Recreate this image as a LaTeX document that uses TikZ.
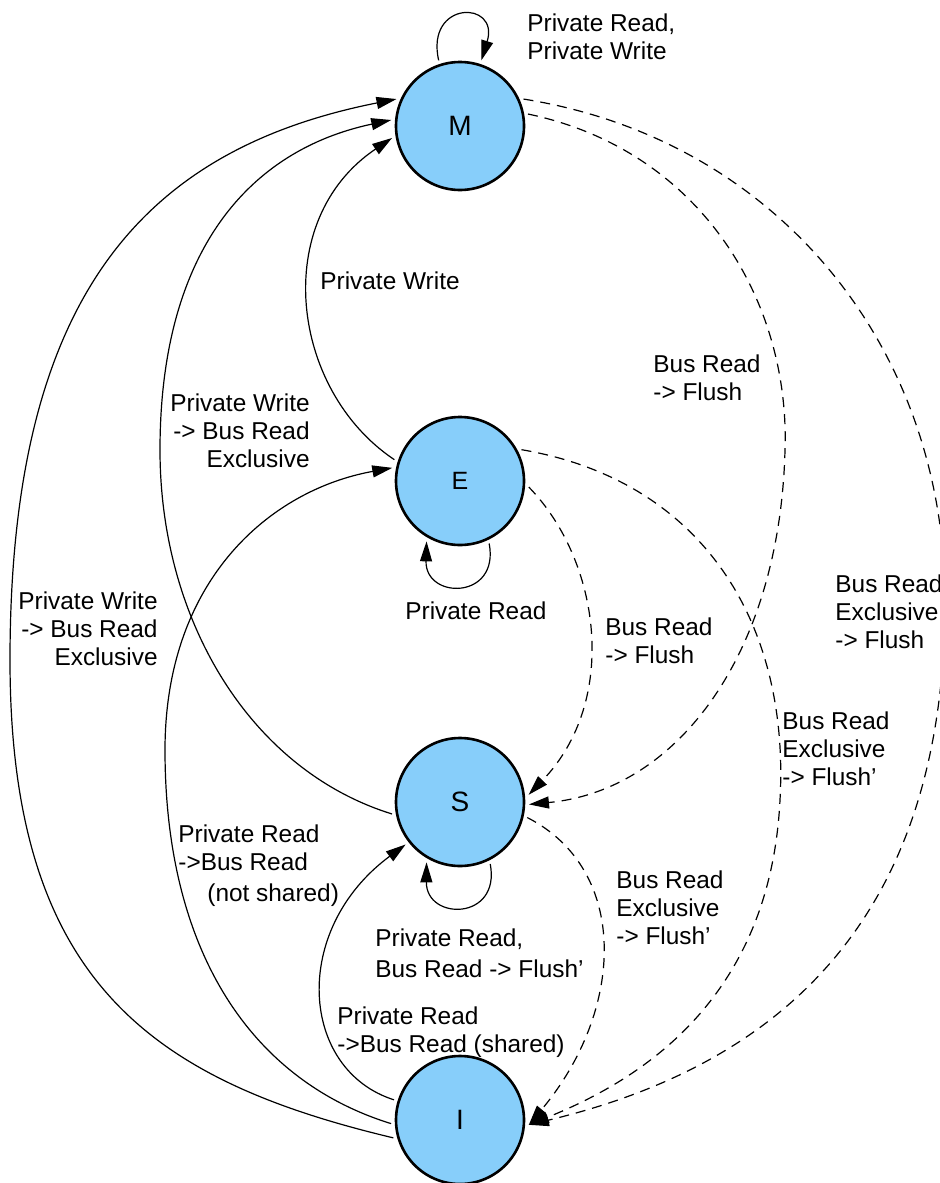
\documentclass[tikz,border=0pt]{standalone}
\usepackage{fontspec}
\setmainfont{Liberation Sans}
\usetikzlibrary{arrows.meta}
\definecolor{stfill}{HTML}{87CEFA}
\begin{document}
\begin{tikzpicture}[x=0.5pt,y=-0.5pt,
  state/.style={circle,draw,line width=1.3pt,fill=stfill,minimum size=64pt,inner sep=0pt,outer sep=2.5pt,font=\fontsize{14}{16}\selectfont},
  tr/.style={line width=0.6pt,-{Triangle[length=10pt,width=6pt]}},
  bus/.style={tr,dash pattern=on 5pt off 3.5pt},
  lbl/.style={inner sep=0pt,font=\fontsize{12.2}{14.2}\selectfont}]
\useasboundingbox (0,0) rectangle (939,1183);
\node[state] (M) at (460,126) {M};
\node[state,font=\fontsize{12.5}{14}\selectfont] (E) at (460,481) {E};
\node[state] (S) at (460,802) {S};
\node[state] (I) at (460,1120) {I};

% self loops
\draw[tr] (M.108) .. controls (425,0) and (500,0) .. (M.72);
\draw[tr] (E.295) .. controls (500,600) and (425,600) .. (E.241);
\draw[tr] (S.296) .. controls (501,921) and (426,921) .. (S.241);

% solid transitions
\draw[tr] (I.195) .. controls (150,1080) and (10,980) .. (10,660) .. controls (10,300) and (140,150) .. (M.157);
\draw[tr] (S.190) .. controls (250,770) and (160,620) .. (160,450) .. controls (160,250) and (250,150) .. (M.175);
\draw[tr] (E.162) .. controls (290,390) and (270,220) .. (M.190);
\draw[tr] (I.183) .. controls (250,1080) and (165,950) .. (165,750) .. controls (165,580) and (270,490) .. (E.169);
\draw[tr] (I.163) .. controls (300,1070) and (290,930) .. (S.218);

% bus transitions
\draw[bus] (M.10) .. controls (700,150) and (790,300) .. (785,450) .. controls (780,650) and (680,790) .. (S.358);
\draw[bus] (M.23) .. controls (780,140) and (945,350) .. (945,600) .. controls (945,900) and (800,1060) .. (I.356);
\draw[bus] (E.27) .. controls (700,480) and (790,620) .. (780,800) .. controls (770,1000) and (640,1080) .. (I.356);
\draw[bus] (E.355) .. controls (600,560) and (620,700) .. (S.6);
\draw[bus] (S.347) .. controls (630,870) and (625,1010) .. (I.356);

% labels
\node[lbl,anchor=north west,align=left] (l1) at (527,13) {Private Read,\\Private Write};
\node[lbl,anchor=north west,align=left] (l2) at (320,271) {Private Write};
\node[lbl,anchor=north west,align=left] (l3) at (653,354) {Bus Read\\-> Flush};
\node[lbl,anchor=north east,align=right] (l4) at (310,393) {Private Write\\-> Bus Read\\Exclusive};
\node[lbl,anchor=north west,align=left] (l5) at (405,601) {Private Read};
\node[lbl,anchor=north west,align=left] (l6) at (605,617) {Bus Read\\-> Flush};
\node[lbl,anchor=north west,align=left] (l7) at (835,574) {Bus Read\\Exclusive\\-> Flush};
\node[lbl,anchor=north east,align=right] (l8) at (158,591) {Private Write\\-> Bus Read\\Exclusive};
\node[lbl,anchor=north west,align=left] (l9) at (782,711) {Bus Read\\Exclusive\\-> Flush’};
\node[lbl,anchor=north west,align=left] (l10) at (178,824) {Private Read\\->Bus Read\\[1.5pt]\hspace{14.5pt}(not shared)};
\node[lbl,anchor=north west,align=left] (l11) at (616,870) {Bus Read\\Exclusive\\-> Flush’};
\node[lbl,anchor=north west,align=left] (l12) at (375,928) {Private Read,\\[1.5pt]Bus Read -> Flush’};
\node[lbl,anchor=north west,align=left] (l13) at (337,1006) {Private Read\\->Bus Read (shared)};
\end{tikzpicture}
\end{document}
